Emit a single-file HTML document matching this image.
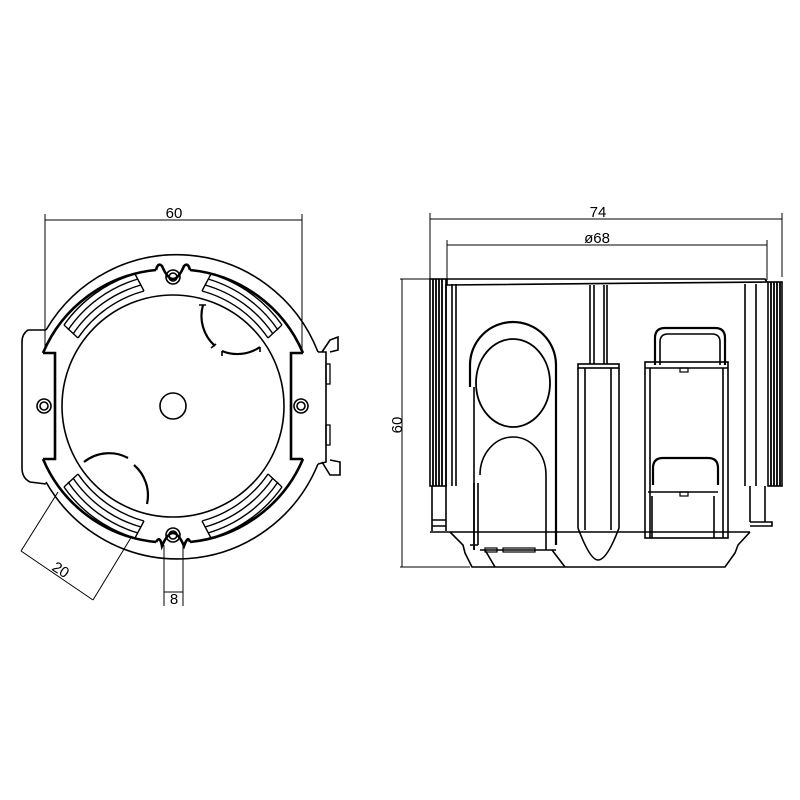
<!DOCTYPE html>
<html><head><meta charset="utf-8"><style>
html,body{margin:0;padding:0;background:#fff;}
svg{display:block;}
text{font-family:"Liberation Sans",sans-serif;font-size:15px;fill:#000;}
</style></head><body>
<svg width="800" height="800" viewBox="0 0 800 800" xmlns="http://www.w3.org/2000/svg" fill="none" stroke="#000" stroke-width="1.6">
<!-- LEFT VIEW -->
<g>
<line x1="45" y1="220" x2="302" y2="220" stroke-width="1"/>
<line x1="45" y1="214" x2="45" y2="350" stroke-width="1"/>
<line x1="302" y1="214" x2="302" y2="350" stroke-width="1"/>
<text x="174" y="218" text-anchor="middle" stroke="none">60</text>
<path d="M46,330 A152,154 0 0 1 318,352"/>
<path d="M318,464 A152,154 0 0 1 46,482"/>
<path d="M46,330 L28,330 Q22,334 22,342 L22,468 Q22,478 30,482 L46,484"/>
<path d="M318,352 L326,352 L326,462 L318,464"/>
<path d="M322,352 L330,340 L338,337 L338,350 L330,352"/>
<path d="M322,462 L330,475 L340,475 L340,462 L330,460"/>
<rect x="326" y="364" width="4" height="20" stroke-width="1.3"/>
<rect x="326" y="425" width="4" height="20" stroke-width="1.3"/>
<g stroke-width="2.6">
<path d="M43,353 A137,137 0 0 1 156,270"/>
<path d="M190,270 A137,137 0 0 1 303,353"/>
<path d="M303,459 A137,137 0 0 1 190,542"/>
<path d="M156,542 A137,137 0 0 1 43,459"/>
<path d="M43,353 L55,353 L55,459 L43,459"/>
<path d="M303,353 L291,353 L291,459 L303,459"/>
<path d="M156,270 Q158,262 162,266 Q173,292 184,266 Q188,262 190,270"/>
<path d="M156,542 Q160,535 162,546 Q173,520 184,546 Q188,535 190,542"/>
</g>
<line x1="55" y1="360" x2="55" y2="452"/>
<circle cx="173" cy="277" r="7"/><circle cx="173" cy="277" r="4"/>
<circle cx="173" cy="535" r="7"/><circle cx="173" cy="535" r="4"/>
<circle cx="44" cy="406" r="7"/><circle cx="44" cy="406" r="4"/>
<circle cx="301" cy="406" r="7"/><circle cx="301" cy="406" r="4"/>
<circle cx="173" cy="406" r="111"/>
<circle cx="173" cy="406" r="13"/>
<g stroke-width="1.4">
<path d="M64,325 A133,133 0 0 1 135,274 M68,330 A128,128 0 0 1 138,279 M73,334 A122,122 0 0 1 141,285 M78,338 A117,117 0 0 1 144,291"/>
<path d="M64,325 L78,338 M135,274 L144,291"/>
<path d="M282,325 A133,133 0 0 0 211,274 M278,330 A128,128 0 0 0 208,279 M273,334 A122,122 0 0 0 205,285 M268,338 A117,117 0 0 0 202,291"/>
<path d="M282,325 L268,338 M211,274 L202,291"/>
<path d="M64,487 A133,133 0 0 0 135,538 M68,482 A128,128 0 0 0 138,533 M73,478 A122,122 0 0 0 141,527 M78,474 A117,117 0 0 0 144,521"/>
<path d="M64,487 L78,474 M135,538 L144,521"/>
<path d="M282,487 A133,133 0 0 1 211,538 M278,482 A128,128 0 0 1 208,533 M273,478 A122,122 0 0 1 205,527 M268,474 A117,117 0 0 1 202,521"/>
<path d="M282,487 L268,474 M211,538 L202,521"/>
</g>
<path d="M203,305 A40,40 0 0 0 215,346 M222,351 A40,40 0 0 0 260,347" stroke-width="2.2"/>
<path d="M199,305 L206,305 M211,348 L216,344 M222,351 L222,356 M260,347 L260,352"/>
<path d="M84,462 A40,40 0 0 1 128,458 M134,465 A40,40 0 0 1 147,504" stroke-width="2.2"/>
<line x1="164" y1="545" x2="164" y2="606" stroke-width="1"/>
<line x1="183" y1="545" x2="183" y2="606" stroke-width="1"/>
<line x1="164" y1="592" x2="183" y2="592" stroke-width="1"/>
<text x="174" y="604" text-anchor="middle" stroke="none">8</text>
<line x1="21" y1="551" x2="93" y2="600" stroke-width="1"/>
<line x1="21" y1="551" x2="58" y2="492" stroke-width="1"/>
<line x1="93" y1="600" x2="132" y2="536" stroke-width="1"/>
<text x="58" y="574" text-anchor="middle" stroke="none" transform="rotate(33 58 574)">20</text>
</g>

<!-- RIGHT VIEW -->
<g>
<line x1="430" y1="219" x2="782" y2="219" stroke-width="1"/>
<line x1="430" y1="213" x2="430" y2="280" stroke-width="1"/>
<line x1="782" y1="213" x2="782" y2="277" stroke-width="1"/>
<text x="598" y="217" text-anchor="middle" stroke="none">74</text>
<line x1="447" y1="245" x2="767" y2="245" stroke-width="1"/>
<line x1="447" y1="240" x2="447" y2="280" stroke-width="1"/>
<line x1="767" y1="240" x2="767" y2="280" stroke-width="1"/>
<text x="597" y="243" text-anchor="middle" stroke="none">ø68</text>
<line x1="402" y1="279" x2="402" y2="567" stroke-width="1"/>
<line x1="400" y1="279" x2="436" y2="279" stroke-width="1"/>
<line x1="400" y1="567" x2="470" y2="567" stroke-width="1"/>
<text x="402" y="425" text-anchor="middle" stroke="none" transform="rotate(-90 402 425)">60</text>
<path d="M447,279 L765,279 L767,282 L447,285 Z"/>
<rect x="430" y="279" width="16" height="207"/>
<path d="M433,279 V486 M436,279 V486 M439,279 V486 M442,279 V486" stroke-width="1.8"/>
<path d="M446,284 V486 M452,284 V486 M456,284 V486"/>
<path d="M432,486 V531 M446,486 V531 M432,520 H446 M432,526 H446"/>
<rect x="768" y="282" width="14" height="204"/>
<path d="M771,282 V486 M774,282 V486 M777,282 V486 M780,282 V486" stroke-width="1.8"/>
<path d="M745,284 V486 M756,284 V486"/>
<path d="M750,486 V522 M765,486 V522 M750,522 L772,522 L772,526 L750,526"/>
<path d="M430,532 L750,532"/>
<path d="M450,532 L463,545 L465,553 L472,567 L725,567 L735,553 L738,545 L750,532"/>
<path d="M470,387 L470,365 A43,43 0 0 1 556,365 L556,545" stroke-width="2.2"/>
<path d="M476,383 A37,44 0 1 1 550,383 A37,44 0 1 1 476,383" stroke-width="1.8"/>
<path d="M474,387 V550"/>
<path d="M480,475 A33,38 0 0 1 546,475 L546,550 M474,483 V550 M478,483 V545"/>
<path d="M470,545 L478,545 M480,550 L556,550"/>
<path d="M485,550 L495,567 M552,550 L565,567"/>
<rect x="485" y="548" width="12" height="4" stroke-width="1.2"/>
<rect x="503" y="548" width="32" height="4" stroke-width="1.2"/>
<path d="M590,285 V364 M594,285 V364 M604,285 V364 M607,285 V364"/>
<rect x="578" y="364" width="41" height="4"/>
<path d="M578,368 V528 Q590,560 598,560 Q607,560 619,528 V368"/>
<path d="M585,368 V530 M611,368 V530"/>
<path d="M655,365 V338 Q655,328 665,328 L715,328 Q725,328 725,338 V365" stroke-width="2.2"/>
<path d="M660,365 V342 Q660,334 668,334 L712,334 Q720,334 720,342 V365"/>
<rect x="645" y="362" width="83" height="176"/>
<path d="M650,368 V538 M723,368 V538 M645,368 H728"/>
<path d="M653,485 V468 Q653,458 663,458 L708,458 Q718,458 718,468 V485" stroke-width="2.2"/>
<path d="M648,492 H718 M652,496 V538 M714,496 V538"/>
<rect x="680" y="368" width="8" height="4" stroke-width="1.2"/>
<rect x="680" y="492" width="8" height="4" stroke-width="1.2"/>
</g>
</svg>
</body></html>
